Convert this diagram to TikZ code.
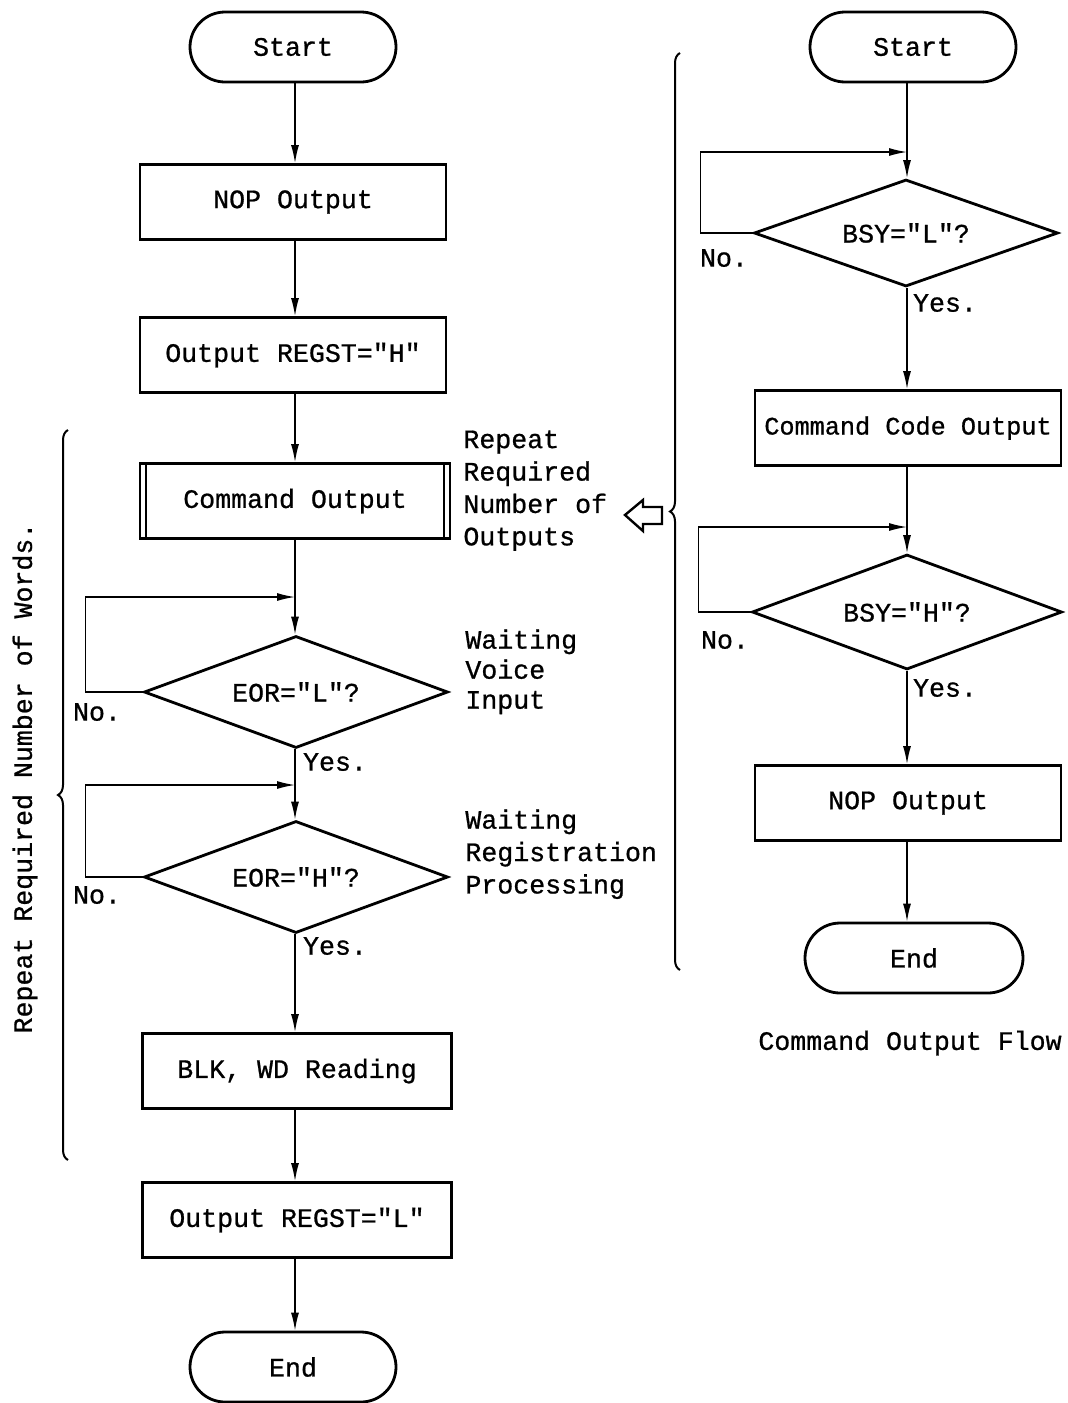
\documentclass[tikz,border=0pt]{standalone}
\usepackage{fontspec}
\setmonofont{Liberation Mono}[FakeBold=0.8]
\usetikzlibrary{shapes.geometric,shapes.misc,arrows.meta,decorations.pathreplacing}

\begin{document}
\begin{tikzpicture}[x=0.5pt,y=-0.5pt,
  every node/.style={font=\ttfamily\fontsize{13.3}{16.2}\selectfont},
  box/.style={draw,line width=1.4pt,minimum width=153pt,minimum height=37.5pt,inner sep=0pt},
  term/.style={draw,line width=1.4pt,rounded rectangle,minimum width=103pt,minimum height=35pt,inner sep=0pt},
  decision/.style={draw,line width=1.4pt,diamond,aspect=2.75,minimum width=152pt,minimum height=56pt,inner sep=0pt},
  conn/.style={line width=0.7pt,-{Latex[length=9pt,width=4pt]}},
  lbl/.style={inner sep=0pt},
  note/.style={align=left,anchor=north west,inner sep=0pt},
  bracket/.style={line width=1pt,decorate,decoration={brace,amplitude=5pt}}]
\useasboundingbox (0,0) rectangle (1068,1403);

% ---------- main flow ----------
\node[term] (s1) at (293,47) {Start};
\node[box] (b1) at (293,202) {NOP Output};
\node[box] (b2) at (293,355) {Output REGST="H"};
\node[box,minimum width=155pt] (b3) at (295,501) {Command Output};
\draw[line width=1pt] ([xshift=3.5pt]b3.north west) -- ([xshift=3.5pt]b3.south west);
\draw[line width=1pt] ([xshift=-3.5pt]b3.north east) -- ([xshift=-3.5pt]b3.south east);
\node[decision] (d1) at (296,692) {EOR="L"?};
\node[decision] (d2) at (296,877) {EOR="H"?};
\node[box,minimum width=154.5pt] (b4) at (297,1071) {BLK, WD Reading};
\node[box,minimum width=154.5pt] (b5) at (297,1220) {Output REGST="L"};
\node[term] (e1) at (293,1367) {End};

\coordinate (j1) at (295,597);
\coordinate (j2) at (295,785);

\draw[conn] (s1.south -| j1) -- (b1.north -| j1);
\draw[conn] (b1.south -| j1) -- (b2.north -| j1);
\draw[conn] (b2.south -| j1) -- (b3.north -| j1);
\draw[conn] (b3.south -| j1) -- (d1.north -| j1);
\draw[conn] (d1.south -| j1) -- (d2.north -| j1);
\draw[conn] (d2.south -| j1) -- (b4.north -| j1);
\draw[conn] (b4.south -| j1) -- (b5.north -| j1);
\draw[conn] (b5.south -| j1) -- (e1.north -| j1);

\draw[conn] (d1.west) -- ++(-57,0) |- (j1);
\draw[conn] (d2.west) -- ++(-57,0) |- (j2);

\node[lbl] (n1) at (97,712) {No.};
\node[lbl] (y1) at (335,762) {Yes.};
\node[lbl] (n2) at (97,895) {No.};
\node[lbl] (y2) at (335,946) {Yes.};

\node[note] (t1) at (463,430) {Repeat\\Required\\Number of\\Outputs};
\node[note,font=\ttfamily\fontsize{13.3}{15}\selectfont] (t2) at (465,629) {Waiting\\Voice\\Input};
\node[note] (t3) at (465,809) {Waiting\\Registration\\Processing};

\draw[bracket] (68,1160) -- (68,430);
\node[rotate=90] (rw) at (25,778) {Repeat Required Number of Words.};

% ---------- command output subroutine ----------
\node[term] (s2) at (913,47) {Start};
\node[decision,minimum height=53.5pt] (d3) at (906,233) {BSY="L"?};
\node[box,font=\ttfamily\fontsize{12.6}{15}\selectfont] (b6) at (908,428) {Command Code Output};
\node[decision,minimum width=155pt,minimum height=57.5pt] (d4) at (907,612) {BSY="H"?};
\node[box] (b7) at (908,803) {NOP Output};
\node[term,minimum width=109pt] (e2) at (914,958) {End};

\coordinate (j3) at (907,152);
\coordinate (j4) at (907,527);

\draw[conn] (s2.south -| j3) -- (d3.north -| j3);
\draw[conn] (d3.south -| j3) -- (b6.north -| j3);
\draw[conn] (b6.south -| j3) -- (d4.north -| j3);
\draw[conn] (d4.south -| j3) -- (b7.north -| j3);
\draw[conn] (b7.south -| j3) -- (e2.north -| j3);

\draw[conn] (d3.west) -- ++(-52,0) |- (j3);
\draw[conn] (d4.west) -- ++(-52,0) |- (j4);

\node[lbl] (n3) at (724,258) {No.};
\node[lbl] (y3) at (945,303) {Yes.};
\node[lbl] (n4) at (725,640) {No.};
\node[lbl] (y4) at (945,688) {Yes.};

\draw[bracket] (680,970) -- (680,53);
\draw[line width=1.2pt,line join=miter]
  (625,515) -- (643,500) -- (643,507) -- (662,507) -- (662,524)
  -- (643,524) -- (643,531) -- cycle;

\node (cap) at (910,1043) {Command Output Flow};
\end{tikzpicture}
\end{document}
